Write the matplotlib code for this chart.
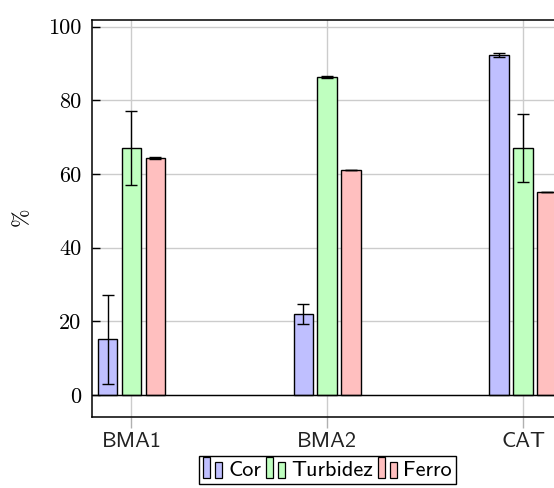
import numpy as np
import matplotlib

matplotlib.use("Agg")
import matplotlib.pyplot as plt
from matplotlib.patches import Rectangle
from matplotlib.legend_handler import HandlerBase

groups = ["BMA1", "BMA2", "CAT"]
series = ["Cor", "Turbidez", "Ferro"]
cor = [15.1, 22.0, 92.3]
cor_err = [12.0, 2.7, 0.5]
turbidez = [67.0, 86.3, 67.0]
turbidez_err = [10.0, 0.3, 9.3]
ferro = [64.3, 61.2, 55.2]
ferro_err = [0.3, 0.0, 0.0]
yticks = [0, 20, 40, 60, 80, 100]

fills = ["#bfbfff", "#bfffbf", "#ffbfbf"]

plt.rcParams["axes.unicode_minus"] = False
plt.rcParams["mathtext.fontset"] = "cm"


class TwoBarHandler(HandlerBase):
    # tall bar + short bar, like the pgfplots ybar legend image
    def create_artists(self, legend, orig_handle, xdescent, ydescent,
                       width, height, fontsize, trans):
        fc = orig_handle.get_facecolor()
        h = height * 1.35
        y0 = -ydescent - height * 0.12
        tall = Rectangle((-xdescent, y0), width * 0.36, h,
                         facecolor=fc, edgecolor="black", lw=0.9, transform=trans)
        short = Rectangle((-xdescent + width * 0.66, y0), width * 0.34, h * 0.74,
                          facecolor=fc, edgecolor="black", lw=0.9, transform=trans)
        return [tall, short]


fig = plt.figure(figsize=(5.54, 4.88), dpi=100)
ax = fig.add_axes([92.3 / 554, 1 - 416.7 / 488, (562.2 - 92.3) / 554, (416.7 - 20) / 488])

x = np.arange(len(groups))
offset = 0.122
width = 0.1
err_kw = dict(ecolor="black", elinewidth=1.0, capsize=4.5, capthick=1.0)
data = [(cor, cor_err), (turbidez, turbidez_err), (ferro, ferro_err)]
handles = []
for i, (vals, errs) in enumerate(data):
    ax.bar(x + (i - 1) * offset, vals, width, yerr=errs, color=fills[i],
           edgecolor="black", linewidth=1.0, error_kw=err_kw, zorder=3)
    handles.append(Rectangle((0, 0), 1, 1, facecolor=fills[i], edgecolor="black"))

ax.axhline(0, color="black", lw=1.0, zorder=4)

ax.set_xlim(-0.2, 2.2)
ax.set_ylim(-5.9, 101.8)
ax.set_xticks(x)
ax.set_xticklabels(groups, fontfamily="cmss10", fontsize=16)
ax.set_yticks(yticks)
ax.set_yticklabels([str(v) for v in yticks], fontfamily="cmr10", fontsize=16)
ax.tick_params(axis="y", direction="in", length=6, width=1.0, pad=8, colors="black")
ax.tick_params(axis="x", direction="out", length=8, width=1.0, pad=3,
               color="#b0b0b0", labelcolor="#222222")
ax.grid(True, color="#cccccc", lw=1.0, zorder=0)
ax.set_axisbelow(True)
for s in ax.spines.values():
    s.set_linewidth(1.1)
    s.set_color("black")

fig.text(22 / 554, 1 - 218 / 488, r"$\%$", rotation=90, ha="center", va="center",
         fontsize=16)

leg = ax.legend(handles, series, handler_map={Rectangle: TwoBarHandler()},
                loc="upper center", bbox_to_anchor=(0.5, -0.099), ncol=3,
                frameon=True, fancybox=False, framealpha=1, edgecolor="black",
                borderaxespad=0, borderpad=0.2, handlelength=0.85,
                handletextpad=0.28, columnspacing=0.22,
                prop={"family": "cmss10", "size": 16})
leg.get_frame().set_linewidth(1.0)

fig.savefig("out.png", dpi=100)
